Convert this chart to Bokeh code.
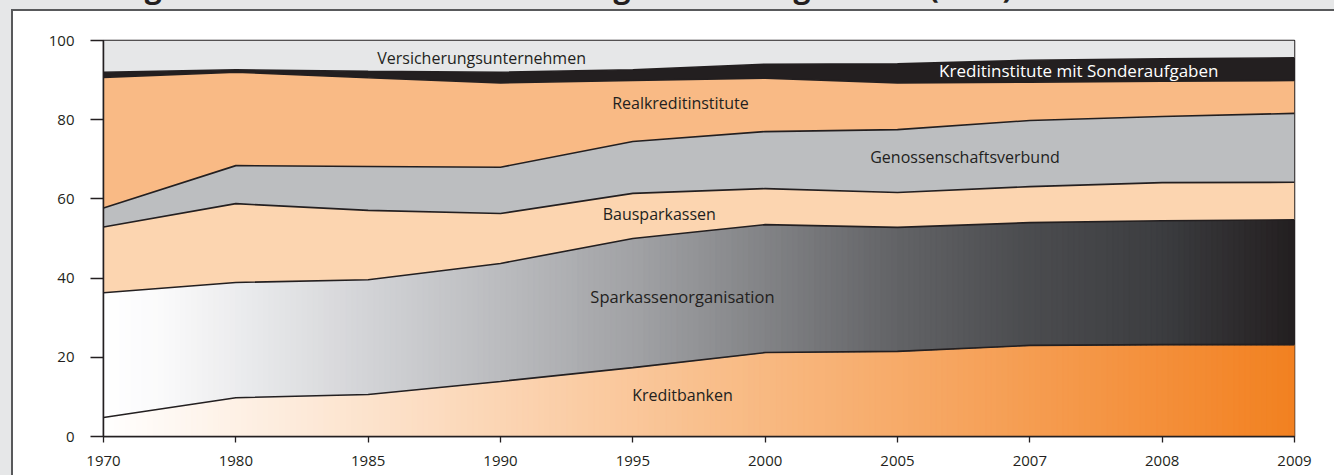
import numpy as np
from bokeh.plotting import figure
from bokeh.models import Label, FixedTicker, Range1d, GlobalInlineStyleSheet
from bokeh.embed import file_html
from bokeh.resources import INLINE

# ---------------- data (market shares in %) ----------------
years = ["1970", "1980", "1985", "1990", "1995", "2000", "2005", "2007", "2008", "2009"]
kreditbanken = [4.8, 9.8, 10.6, 13.9, 17.4, 21.2, 21.5, 23.0, 23.2, 23.2]
sparkassen = [31.5, 29.1, 29.0, 29.8, 32.6, 32.3, 31.3, 31.0, 31.3, 31.5]
bausparkassen = [16.6, 19.9, 17.5, 12.6, 11.4, 9.1, 8.8, 9.1, 9.6, 9.5]
genossenschaften = [4.8, 9.6, 11.1, 11.7, 13.1, 14.4, 15.9, 16.7, 16.7, 17.4]
realkredit = [33.0, 23.6, 22.4, 21.3, 15.4, 13.5, 11.8, 9.7, 8.9, 8.3]
sonderaufgaben = [1.3, 0.6, 1.6, 2.7, 2.7, 3.5, 4.8, 5.5, 5.7, 5.7]
versicherungen = [8.0, 7.4, 7.8, 8.0, 7.4, 6.0, 5.9, 5.0, 4.6, 4.4]
y_ticks = [0, 20, 40, 60, 80, 100]

title_text = "Verteilung der Marktanteile am Wohnungsbaukreditgeschäft (in %)"

DARK = "#231f20"
FONT = "Open Sans"
SHIFT = 82  # the canvas is moved up by this many pixels, so the title is cut like the reference

x = np.arange(len(years), dtype=float)
series = [kreditbanken, sparkassen, bausparkassen, genossenschaften,
          realkredit, sonderaufgaben, versicherungen]
cum = np.cumsum(np.array(series, dtype=float), axis=0)
bounds = [np.zeros(len(years))] + [cum[i] for i in range(len(series))]

p = figure(width=1334, height=475 + SHIFT, x_range=Range1d(0, 9), y_range=Range1d(0, 100),
           output_backend="svg", toolbar_location=None,
           min_border_left=103, min_border_right=40, min_border_top=40 + SHIFT,
           min_border_bottom=39,
           border_fill_alpha=0, background_fill_color="white",
           outline_line_color=DARK, outline_line_width=1.5)

p.stylesheets = [GlobalInlineStyleSheet(css=(
    "html,body{margin:0;padding:0;overflow:hidden;}"
    "body{background:linear-gradient(#fff,#fff) 13px 11px/100% 100% no-repeat,"
    "linear-gradient(#58595b,#58595b) 11px 9px/100% 100% no-repeat,#e6e7e8;}"))]
p.styles = {"transform": "translateY(-%dpx)" % SHIFT}

p.title.text = title_text
p.title.text_font = FONT
p.title.text_font_style = "bold"
p.title.text_font_size = "30px"
p.title.text_color = DARK
p.title.align = "left"
p.title.offset = 5 - 103
p.title.standoff = 68


def mix(stops, t):
    ts = [s[0] for s in stops]
    r = np.interp(t, ts, [s[1][0] for s in stops])
    g = np.interp(t, ts, [s[1][1] for s in stops])
    b = np.interp(t, ts, [s[1][2] for s in stops])
    return "#%02x%02x%02x" % (int(round(r)), int(round(g)), int(round(b)))


orange_stops = [(0.0, (255, 255, 255)), (0.5, (249, 192, 142)), (1.0, (242, 129, 33))]
grey_stops = [(0.0, (255, 255, 255)), (0.05, (250, 250, 251)), (0.222, (211, 212, 215)),
              (0.444, (162, 163, 166)), (0.556, (130, 131, 134)), (0.667, (98, 99, 102)),
              (0.778, (75, 76, 79)), (0.889, (60, 61, 64)), (1.0, (35, 31, 32))]


def gradient_layer(lower, upper, stops, sub=24):
    xs, ys, cols = [], [], []
    n = len(x) - 1
    for i in range(n):
        edges = np.linspace(x[i], x[i + 1], sub + 1)
        for j in range(sub):
            x0 = edges[j]
            x1 = min(edges[j + 1] + 0.01, x[-1])
            lo = np.interp([x0, x1], x, lower)
            hi = np.interp([x0, x1], x, upper)
            xs.append([x0, x1, x1, x0])
            ys.append([lo[0], lo[1], hi[1], hi[0]])
            cols.append(mix(stops, (x0 + x1) / 2 / x[-1]))
    p.patches(xs, ys, fill_color=cols, line_color=cols, line_width=1)


gradient_layer(bounds[0], bounds[1], orange_stops)
gradient_layer(bounds[1], bounds[2], grey_stops)

solid_colors = ["#fcd5b0", "#bcbec0", "#f9ba85", DARK, "#e6e7e8"]
for k, c in enumerate(solid_colors):
    p.varea(x=x, y1=bounds[k + 2], y2=bounds[k + 3], fill_color=c)

for k in range(1, 7):
    p.line(x, bounds[k], line_color=DARK, line_width=1.6)

# axes
p.grid.visible = False
p.xaxis.ticker = FixedTicker(ticks=list(range(len(years))))
p.xaxis.major_label_overrides = {i: y for i, y in enumerate(years)}
p.yaxis.ticker = FixedTicker(ticks=y_ticks)
for ax, tout, stand in ((p.xaxis, 6, 13), (p.yaxis, 13, 16)):
    ax.axis_line_color = DARK
    ax.axis_line_width = 1.5
    ax.major_tick_line_color = DARK
    ax.major_tick_line_width = 1.3
    ax.major_tick_out = tout
    ax.major_tick_in = 0
    ax.minor_tick_out = 0
    ax.minor_tick_in = 0
    ax.major_label_text_font = FONT
    ax.major_label_text_font_size = "15px"
    ax.major_label_text_color = DARK
    ax.major_label_standoff = stand

# in-chart labels: (text, x, y, color, size)
labels = [
    ("Versicherungsunternehmen", 2.857, 95.7, DARK, "16px"),
    ("Kreditinstitute mit Sonderaufgaben", 7.37, 92.4, "white", "17px"),
    ("Realkreditinstitute", 4.36, 84.1, DARK, "16px"),
    ("Genossenschaftsverbund", 6.51, 70.5, DARK, "16px"),
    ("Bausparkassen", 4.20, 56.3, DARK, "16px"),
    ("Sparkassenorganisation", 4.375, 35.4, DARK, "16.5px"),
    ("Kreditbanken", 4.375, 10.4, DARK, "16px"),
]
for t, lx, ly, c, fs in labels:
    p.add_layout(Label(x=lx, y=ly, text=t, text_align="center", text_baseline="middle",
                       text_font=FONT, text_font_size=fs, text_color=c))

open("out.html", "w").write(file_html(p, INLINE))
